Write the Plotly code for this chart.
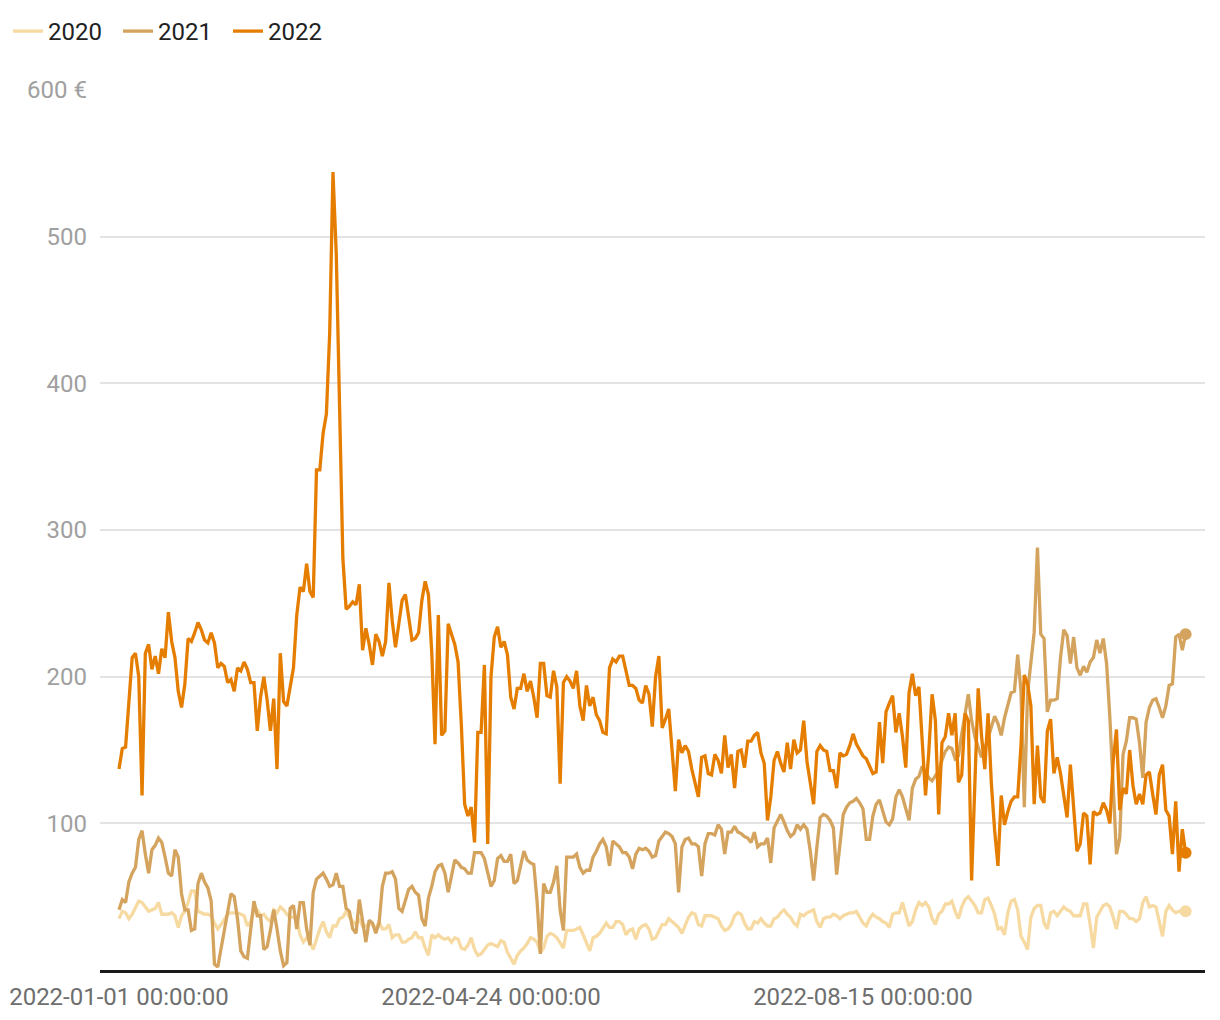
import pandas as pd
import plotly.graph_objects as go

# ---------------- data ----------------
years = ["2020", "2021", "2022"]
start_date = "2022-01-01"

v2020 = [
    35, 40, 39, 35, 38, 43, 47, 46, 43, 40,
    41, 42, 46, 38, 38, 38, 39, 37, 29, 37,
    40, 46, 54, 54, 40, 39, 38, 38, 37, 32,
    28, 31, 35, 38, 39, 39, 39, 38, 37, 30,
    33, 41, 41, 37, 38, 35, 33, 41, 39, 43,
    41, 38, 36, 36, 35, 24, 19, 22, 19, 14,
    22, 28, 33, 26, 22, 30, 30, 35, 36, 40,
    36, 33, 31, 35, 30, 30, 32, 31, 28, 33,
    28, 28, 31, 22, 24, 24, 19, 19, 21, 22,
    26, 22, 22, 15, 10, 24, 22, 24, 22, 21,
    22, 19, 22, 21, 15, 14, 17, 22, 14, 10,
    11, 14, 17, 18, 17, 16, 20, 19, 12, 8,
    4, 10, 13, 15, 18, 22, 21, 19, 12, 15,
    23, 25, 24, 22, 18, 15, 27, 27, 27, 28,
    29, 24, 18, 13, 22, 23, 25, 29, 32, 29,
    29, 33, 33, 31, 24, 27, 28, 21, 28, 30,
    31, 28, 21, 22, 27, 31, 31, 35, 33, 31,
    29, 25, 31, 36, 39, 38, 31, 30, 37, 37,
    37, 36, 35, 30, 27, 28, 31, 37, 39, 38,
    32, 28, 28, 33, 32, 35, 32, 30, 30, 35,
    36, 39, 41, 38, 36, 32, 30, 38, 37, 39,
    40, 41, 33, 29, 35, 36, 36, 38, 37, 35,
    37, 38, 39, 39, 40, 36, 32, 30, 35, 38,
    36, 35, 33, 32, 29, 38, 39, 39, 46, 38,
    30, 33, 41, 46, 44, 46, 43, 35, 31, 38,
    40, 45, 45, 47, 40, 35, 43, 48, 50, 47,
    44, 39, 39, 48, 49, 44, 38, 28, 29, 24,
    39, 47, 48, 41, 23, 19, 14, 36, 42, 44,
    44, 32, 28, 39, 40, 37, 40, 43, 41, 40,
    37, 37, 37, 45, 45, 31, 15, 36, 40, 44,
    45, 43, 36, 28, 40, 40, 38, 35, 35, 33,
    35, 46, 50, 43, 44, 43, 33, 23, 40, 44,
    41, 39, 40, 40, 40,
]

v2021 = [
    41, 48, 46, 60, 66, 70, 89, 95, 79, 66,
    82, 85, 90, 87, 77, 66, 64, 82, 77, 52,
    41, 41, 27, 28, 59, 66, 60, 56, 47, 4,
    2, 14, 27, 40, 52, 50, 35, 13, 9, 8,
    27, 47, 37, 37, 14, 16, 27, 41, 28, 13,
    3, 5, 42, 44, 28, 46, 46, 28, 17, 53,
    62, 64, 66, 62, 57, 58, 66, 57, 57, 42,
    40, 28, 25, 48, 35, 19, 34, 32, 25, 32,
    57, 66, 66, 67, 62, 42, 40, 48, 55, 57,
    53, 51, 35, 30, 49, 57, 67, 71, 72, 66,
    53, 64, 75, 73, 70, 69, 66, 66, 80, 80,
    80, 76, 66, 57, 61, 76, 78, 74, 74, 79,
    59, 61, 71, 81, 75, 73, 72, 47, 11, 59,
    53, 53, 60, 71, 41, 27, 77, 77, 77, 79,
    70, 66, 68, 68, 77, 81, 86, 89, 84, 71,
    88, 86, 84, 80, 80, 77, 69, 79, 83, 82,
    83, 81, 77, 78, 88, 91, 94, 93, 91, 86,
    53, 84, 89, 90, 86, 86, 84, 64, 86, 93,
    93, 92, 99, 96, 79, 94, 94, 98, 94, 93,
    91, 90, 87, 94, 84, 86, 86, 90, 73, 97,
    102, 106, 101, 95, 91, 93, 99, 96, 99, 96,
    81, 61, 84, 104, 106, 105, 102, 97, 65, 84,
    106, 111, 114, 115, 117, 114, 110, 89, 89, 105,
    113, 116, 109, 101, 99, 103, 118, 123, 118, 109,
    102, 124, 130, 132, 139, 135, 131, 129, 133, 136,
    143, 149, 152, 151, 144, 146, 161, 176, 188, 170,
    159, 152, 145, 151, 159, 165, 173, 168, 160, 172,
    181, 189, 190, 215, 190, 111, 189, 209, 230, 288,
    229, 226, 176, 184, 184, 185, 213, 232, 228, 209,
    227, 206, 201, 207, 203, 210, 213, 225, 216, 226,
    209, 172, 127, 79, 90, 147, 156, 172, 172, 171,
    155, 131, 169, 179, 184, 185, 179, 172, 180, 194,
    195, 227, 229, 218, 229,
]

v2022 = [
    137, 151, 152, 180, 213, 216, 200, 119, 216, 222,
    205, 214, 202, 219, 213, 244, 224, 213, 190, 179,
    195, 226, 224, 230, 237, 232, 225, 223, 230, 223,
    206, 209, 207, 196, 198, 190, 206, 204, 210, 205,
    196, 196, 163, 186, 200, 184, 163, 185, 137, 216,
    183, 180, 192, 206, 242, 261, 258, 277, 258, 254,
    341, 341, 366, 379, 434, 544, 488, 373, 281, 246,
    248, 251, 249, 263, 218, 233, 222, 208, 229, 224,
    214, 224, 264, 238, 220, 236, 252, 256, 240, 225,
    226, 230, 252, 265, 256, 217, 154, 242, 160, 163,
    236, 229, 222, 210, 167, 113, 105, 111, 87, 162,
    162, 208, 86, 200, 227, 234, 220, 224, 215, 186,
    178, 192, 192, 202, 190, 197, 186, 172, 209, 209,
    187, 186, 204, 193, 127, 196, 200, 197, 192, 204,
    180, 170, 194, 180, 186, 174, 170, 162, 161, 206,
    212, 210, 214, 214, 203, 194, 194, 192, 184, 182,
    194, 188, 166, 200, 214, 165, 171, 178, 150, 122,
    157, 148, 153, 149, 137, 127, 118, 145, 146, 134,
    133, 147, 143, 134, 160, 138, 147, 124, 149, 150,
    138, 156, 156, 160, 162, 148, 141, 102, 118, 143,
    149, 141, 135, 155, 137, 157, 148, 150, 170, 142,
    129, 113, 149, 153, 150, 149, 136, 136, 124, 148,
    146, 147, 153, 161, 154, 150, 146, 144, 139, 134,
    135, 169, 141, 176, 182, 187, 162, 175, 159, 138,
    189, 202, 187, 193, 156, 119, 149, 188, 170, 106,
    155, 159, 175, 160, 175, 128, 133, 175, 170, 61,
    128, 192, 160, 137, 175, 127, 95, 71, 119, 99,
    108, 115, 118, 118, 153, 201, 195, 180, 113, 153,
    118, 114, 163, 171, 134, 145, 134, 117, 104, 140,
    110, 81, 86, 107, 105, 72, 108, 106, 107, 114,
    109, 100, 142, 164, 109, 124, 120, 150, 126, 113,
    120, 113, 133, 135, 120, 106, 133, 140, 109, 105,
    79, 115, 67, 96, 80,
]

y_tick_vals = [100, 200, 300, 400, 500, 600]
y_tick_text = ["100", "200", "300", "400", "500", "600 €"]
x_tick_vals = ["2022-01-01", "2022-04-24", "2022-08-15"]
x_tick_text = ["2022-01-01 00:00:00", "2022-04-24 00:00:00", "2022-08-15 00:00:00"]

# ---------------- style ----------------
colors = ["#F6DAA2", "#D4A35E", "#E57E00"]
FONT = "Roboto"

fig = go.Figure()
series = [v2020, v2021, v2022]
for name, vals, col in zip(years, series, colors):
    x = pd.date_range(start_date, periods=len(vals), freq="D")
    fig.add_trace(go.Scatter(
        x=x, y=vals, mode="lines", name=name,
        line=dict(color=col, width=3.3),
        hoverinfo="skip",
    ))
for name, vals, col in zip(years, series, colors):
    x = pd.date_range(start_date, periods=len(vals), freq="D")
    fig.add_trace(go.Scatter(
        x=[x[-1]], y=[vals[-1]], mode="markers", name=name,
        marker=dict(color=col, size=12),
        showlegend=False, hoverinfo="skip",
    ))

fig.update_layout(
    width=1220, height=1020,
    margin=dict(l=100, r=15, t=90, b=50, autoexpand=False),
    paper_bgcolor="white", plot_bgcolor="white",
    font=dict(family=FONT, size=24, color="#222222"),
    showlegend=True,
    legend=dict(
        orientation="h", x=8 / 1220, y=1 - 9 / 1020,
        xref="container", yref="container",
        xanchor="left", yanchor="top",
        font=dict(family=FONT, size=24, color="#222222"),
        entrywidth=65, entrywidthmode="pixels",
        bgcolor="rgba(0,0,0,0)",
    ),
    xaxis=dict(
        type="date", automargin=False,
        range=["2021-12-26 05:30", "2022-11-26 21:30"],
        tickvals=x_tick_vals, ticktext=x_tick_text,
        showgrid=False, zeroline=False,
        showline=True, linecolor="#1a1a1a", linewidth=2.5,
        ticks="", ticklabelstandoff=3,
        tickfont=dict(family=FONT, size=24, color="#6e6e6e"),
    ),
    yaxis=dict(
        range=[0, 600], automargin=False,
        tickvals=y_tick_vals, ticktext=y_tick_text,
        showgrid=True, gridcolor="#e3e3e3", gridwidth=2,
        zeroline=False, showline=False,
        ticks="", ticklabelstandoff=12,
        tickfont=dict(family=FONT, size=24, color="#a0a0a0"),
    ),
)

fig.write_html("out.html")
